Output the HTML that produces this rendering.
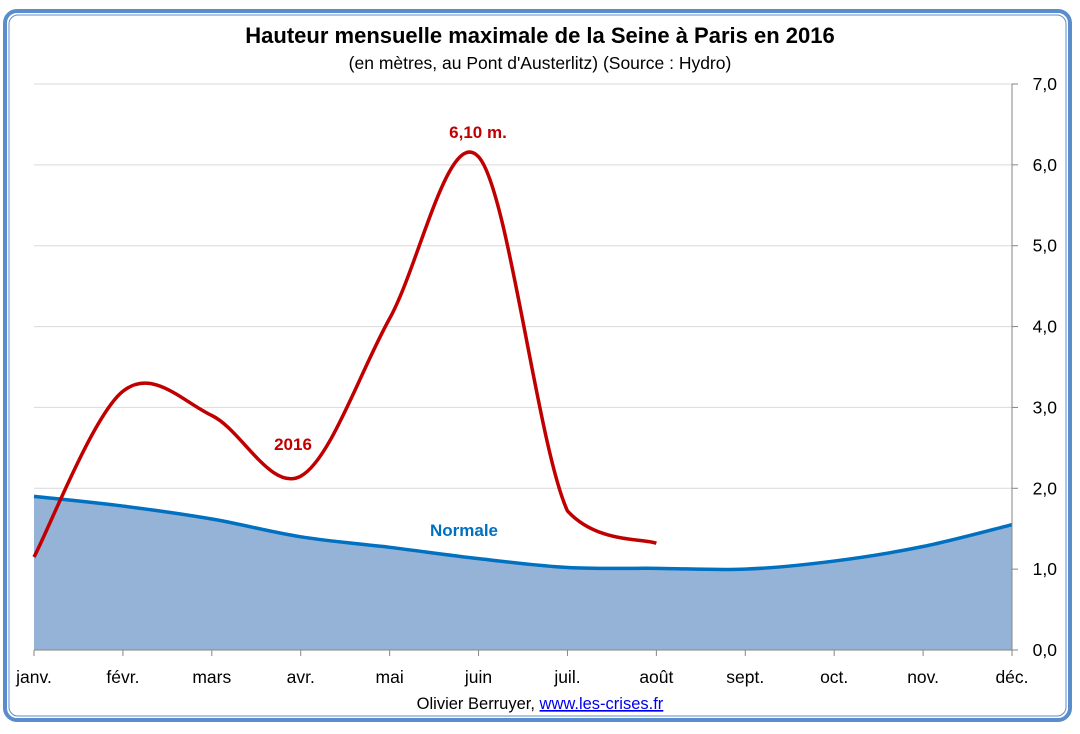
<!DOCTYPE html>
<html><head><meta charset="utf-8"><style>
html,body{margin:0;padding:0;background:#fff;}
svg{display:block;font-family:"Liberation Sans",sans-serif;}
</style></head><body>
<svg id="c" width="1080" height="734">
<rect x="5" y="11" width="1065" height="709" rx="12" fill="#fff" stroke="#5B8CCB" stroke-width="4"/>
<rect x="9" y="15" width="1057" height="701" rx="9" fill="none" stroke="#5B8CCB" stroke-width="1"/>
<text x="540" y="43" text-anchor="middle" font-size="22" font-weight="bold" fill="#000">Hauteur mensuelle maximale de la Seine à Paris en 2016</text>
<text x="540" y="69" text-anchor="middle" font-size="17.5" fill="#000">(en mètres, au Pont d'Austerlitz) (Source : Hydro)</text>
<g id="grid"></g><g id="area"></g><g id="lines"></g><g id="axes"></g>
<text x="293" y="450" text-anchor="middle" font-size="17" font-weight="bold" fill="#C00000">2016</text>
<text x="478" y="138" text-anchor="middle" font-size="17" font-weight="bold" fill="#C00000">6,10 m.</text>
<text x="464" y="536" text-anchor="middle" font-size="17" font-weight="bold" fill="#0070C0">Normale</text>
<text x="540" y="709" text-anchor="middle" font-size="16.5" fill="#000">Olivier Berruyer, <tspan fill="#0000EE" text-decoration="underline">www.les-crises.fr</tspan></text>
</svg>
<script>
const months=["janv.","févr.","mars","avr.","mai","juin","juil.","août","sept.","oct.","nov.","déc."];
const normale=[1.9,1.78,1.62,1.4,1.27,1.13,1.02,1.01,1.0,1.1,1.28,1.55];
const s2016=[1.15,3.2,2.9,2.15,4.1,6.1,1.72,1.32];
const yTicks=[0,1,2,3,4,5,6,7];
const yTickLabels=["0,0","1,0","2,0","3,0","4,0","5,0","6,0","7,0"];
const NS="http://www.w3.org/2000/svg";
const X0=34,X1=1012,Y0=650,Y7=84;
const xs=i=>X0+i*(X1-X0)/(months.length-1);
const ys=v=>Y0-v*(Y0-Y7)/7;
function mk(t,a,p){const e=document.createElementNS(NS,t);for(const k in a)e.setAttribute(k,a[k]);p.appendChild(e);return e;}
function smooth(pts){let d=`M${pts[0][0]},${pts[0][1]}`;const n=pts.length;for(let i=0;i<n-1;i++){const p0=pts[Math.max(0,i-1)],p1=pts[i],p2=pts[i+1],p3=pts[Math.min(n-1,i+2)];const t=6;
 let c1y=p1[1]+(p2[1]-p0[1])/t,c2y=p2[1]-(p3[1]-p1[1])/t;
 if(i===n-2){const lo=Math.min(p1[1],p2[1]),hi=Math.max(p1[1],p2[1]);c1y=Math.min(hi,Math.max(lo,c1y));c2y=Math.min(hi,Math.max(lo,c2y));}
 d+=` C${p1[0]+(p2[0]-p0[0])/t},${c1y} ${p2[0]-(p3[0]-p1[0])/t},${c2y} ${p2[0]},${p2[1]}`;}return d;}
const grid=document.getElementById('grid'),axes=document.getElementById('axes');
yTicks.forEach((v,i)=>{
 if(v>0){const g=mk('line',{x1:X0,x2:X1,y1:ys(v),y2:ys(v),stroke:'#D9D9D9','stroke-width':1},grid);
 
 }
 const tk=mk('line',{x1:X1,x2:X1+6,y1:ys(v),y2:ys(v),stroke:'#868686'},axes);
 
 
 const t=mk('text',{x:1057,y:ys(v)+6,'text-anchor':'end','font-size':17.5,fill:'#000'},axes);t.textContent=yTickLabels[i];
 
 
});
const np=normale.map((v,i)=>[xs(i),ys(v)]);
const nd=smooth(np);
const ar=mk('path',{d:nd+` L${X1},${Y0} L${X0},${Y0} Z`,fill:'#95B3D7'},document.getElementById('area'));


const nl=mk('path',{d:nd,fill:'none',stroke:'#0070C0','stroke-width':3.5},document.getElementById('lines'));


const rp=s2016.map((v,i)=>[xs(i),ys(v)]);
const rl=mk('path',{d:smooth(rp),fill:'none',stroke:'#C00000','stroke-width':3.5},document.getElementById('lines'));


const ax=mk('line',{x1:X1,x2:X1,y1:Y7,y2:Y0,stroke:'#868686'},axes);


const bx=mk('line',{x1:X0,x2:X1+6,y1:Y0,y2:Y0,stroke:'#868686'},axes);


months.forEach((m,i)=>{
 const tk=mk('line',{x1:xs(i),x2:xs(i),y1:Y0,y2:Y0+6,stroke:'#868686'},axes);
 
 
 const t=mk('text',{x:xs(i),y:683,'text-anchor':'middle','font-size':17.5,fill:'#000'},axes);t.textContent=m;
 
 
});
</script>
</body></html>
